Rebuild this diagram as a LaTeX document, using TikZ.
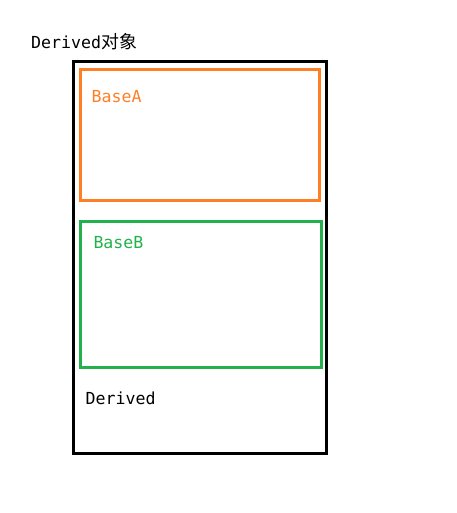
\documentclass[tikz,border=0pt]{standalone}
\usepackage{fontspec}
\setmonofont{DejaVu Sans Mono}
\newfontfamily\cjk[Scale=1.08]{Noto Sans CJK SC}
\definecolor{baseorange}{RGB}{255,127,39}
\definecolor{basegreen}{RGB}{34,177,76}
\tikzset{
  layout/.style={draw, line width=3pt, inner sep=0pt},
  label/.style={anchor=base west, inner sep=0pt, font=\ttfamily\fontsize{16.6}{20}\selectfont}
}
\begin{document}
\begin{tikzpicture}[x=1pt, y=-1pt]
    \useasboundingbox (0, 0) rectangle (456, 513);
    % whole object, then its two base parts
    \node[layout, black, minimum width=253pt, minimum height=391pt] (derived) at (199.5, 257.5) {};
    \node[layout, baseorange, minimum width=239pt, minimum height=130pt] (basea) at (199.5, 135) {};
    \node[layout, basegreen, minimum width=241pt, minimum height=146pt] (baseb) at (200.5, 294) {};

    \node[label] (title) at (31, 48.3) {Derived{\cjk 对象}};
    \node[label, baseorange] (baseaname) at (91.5, 102.7) {BaseA};
    \node[label, basegreen] (basebname) at (93.3, 248.3) {BaseB};
    \node[label] (derivedname) at (85.5, 404) {Derived};
\end{tikzpicture}
\end{document}
